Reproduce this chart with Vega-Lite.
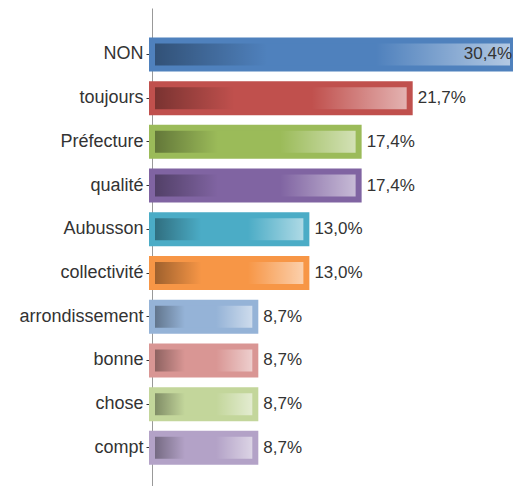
{
  "$schema": "https://vega.github.io/schema/vega-lite/v6.json",
  "width": 361,
  "height": 480,
  "autosize": "none",
  "padding": {"left": 152, "top": 8, "right": 0, "bottom": 0},
  "background": "white",
  "config": {"view": {"stroke": null}, "font": "Liberation Sans"},
  "data": {
    "values": [
      {"cat": "NON", "v": 30.4, "label": "30,4%"},
      {"cat": "toujours", "v": 21.7, "label": "21,7%"},
      {"cat": "Préfecture", "v": 17.4, "label": "17,4%"},
      {"cat": "qualité", "v": 17.4, "label": "17,4%"},
      {"cat": "Aubusson", "v": 13.0, "label": "13,0%"},
      {"cat": "collectivité", "v": 13.0, "label": "13,0%"},
      {"cat": "arrondissement", "v": 8.7, "label": "8,7%"},
      {"cat": "bonne", "v": 8.7, "label": "8,7%"},
      {"cat": "chose", "v": 8.7, "label": "8,7%"},
      {"cat": "compt", "v": 8.7, "label": "8,7%"}
    ]
  },
  "encoding": {
    "y": {
      "field": "cat",
      "type": "nominal",
      "sort": null,
      "scale": {"paddingInner": 0.22, "paddingOuter": 0.6, "align": 0.56},
      "axis": {
        "title": null,
        "labelFont": "Liberation Sans",
        "labelFontSize": 18,
        "labelColor": "#333333",
        "labelPadding": 3,
        "tickSize": 6,
        "tickColor": "#333333",
        "domainColor": "#999999",
        "domainWidth": 1
      }
    },
    "x": {
      "field": "v",
      "type": "quantitative",
      "scale": {"domain": [0, 30.4], "nice": false, "zero": true},
      "axis": null
    }
  },
  "layer": [
    {
      "mark": {"type": "bar", "size": 28},
      "encoding": {
        "color": {
          "field": "cat",
          "type": "nominal",
          "legend": null,
          "scale": {
            "domain": ["NON", "toujours", "Préfecture", "qualité", "Aubusson", "collectivité", "arrondissement", "bonne", "chose", "compt"],
            "range": ["#4F81BD", "#C0504D", "#9BBB59", "#8064A2", "#4BACC6", "#F79646", "#95B3D7", "#D99694", "#C3D69B", "#B3A2C7"]
          }
        }
      }
    },
    {
      "mark": {
        "type": "bar",
        "size": 28,
        "fill": {
          "gradient": "linear",
          "x1": 0, "y1": 0, "x2": 1, "y2": 0,
          "stops": [
            {"offset": 0, "color": "rgba(0,0,0,0.38)"},
            {"offset": 0.32, "color": "rgba(0,0,0,0)"},
            {"offset": 0.62, "color": "rgba(255,255,255,0)"},
            {"offset": 1, "color": "rgba(255,255,255,0.58)"}
          ]
        }
      }
    },
    {
      "mark": {"type": "bar", "size": 28, "fill": null, "fillOpacity": 0, "strokeWidth": 6, "strokeJoin": "miter"},
      "encoding": {
        "stroke": {
          "field": "cat",
          "type": "nominal",
          "legend": null,
          "scale": {
            "domain": ["NON", "toujours", "Préfecture", "qualité", "Aubusson", "collectivité", "arrondissement", "bonne", "chose", "compt"],
            "range": ["#4F81BD", "#C0504D", "#9BBB59", "#8064A2", "#4BACC6", "#F79646", "#95B3D7", "#D99694", "#C3D69B", "#B3A2C7"]
          }
        }
      }
    },
    {
      "transform": [{"filter": "datum.v < 30"}],
      "mark": {"type": "text", "align": "left", "baseline": "middle", "dx": 8, "font": "Liberation Sans", "fontSize": 17, "color": "#333333"},
      "encoding": {"text": {"field": "label"}}
    },
    {
      "transform": [{"filter": "datum.v >= 30"}],
      "mark": {"type": "text", "align": "right", "baseline": "middle", "dx": -1, "font": "Liberation Sans", "fontSize": 17, "color": "#333333"},
      "encoding": {"text": {"field": "label"}}
    }
  ]
}
